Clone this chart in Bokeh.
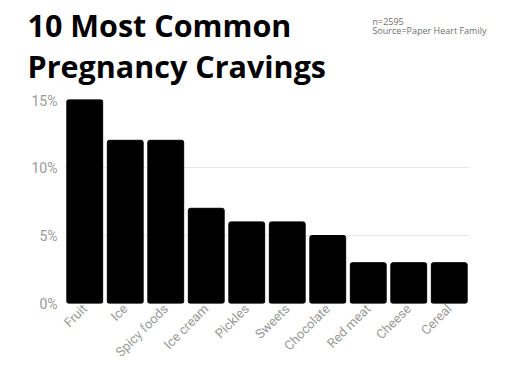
from bokeh.plotting import figure
from bokeh.layouts import column
from bokeh.models import Label, NumeralTickFormatter, FixedTicker, Range1d
from bokeh.embed import file_html
from bokeh.resources import INLINE
import math

categories = ["Fruit", "Ice", "Spicy foods", "Ice cream", "Pickles", "Sweets",
              "Chocolate", "Red meat", "Cheese", "Cereal"]
shares = [15, 12, 12, 7, 6, 6, 5, 3, 3, 3]
y_ticks = [0, 5, 10, 15]
title_lines = ["10 Most Common", "Pregnancy Cravings"]
note_lines = ["n=2595", "Source=Paper Heart Family"]

W = 496
HEAD_H = 92
MAIN_H = 368 - HEAD_H

# ---- header (title + note) ----
head = figure(width=W, height=HEAD_H, x_range=Range1d(0, W), y_range=Range1d(HEAD_H, 0),
              output_backend="svg", toolbar_location=None,
              x_axis_type=None, y_axis_type=None,
              min_border=0, min_border_left=0, min_border_right=0,
              min_border_top=0, min_border_bottom=0)
head.frame_align = False
head.outline_line_color = None
head.grid.grid_line_color = None
head.background_fill_color = "white"
head.border_fill_color = "white"

for t, ypos in zip(title_lines, [24, 65]):
    head.add_layout(Label(x=27, y=ypos, text=t, text_font="Open Sans",
                          text_font_style="bold", text_font_size="30.5px",
                          text_color="black", text_baseline="alphabetic"))
for t, ypos in zip(note_lines, [21, 30]):
    head.add_layout(Label(x=372, y=ypos, text=t, text_font="Open Sans",
                          text_font_size="9px", text_color="#6f6f6f",
                          text_baseline="alphabetic"))

# ---- main bar chart ----
p = figure(x_range=categories, y_range=(0, 15), width=W, height=MAIN_H,
           output_backend="svg", toolbar_location=None,
           min_border_left=64, min_border_right=27, min_border_top=7, min_border_bottom=58)
p.frame_align = False
p.outline_line_color = None
p.background_fill_color = "white"
p.border_fill_color = "white"

p.vbar(x=categories, top=shares, width=0.885, color="black", border_radius=2)

p.xgrid.grid_line_color = None
p.ygrid.grid_line_color = "#e8e8e8"
p.ygrid.grid_line_width = 1
p.yaxis.ticker = FixedTicker(ticks=y_ticks)
p.yaxis.formatter = NumeralTickFormatter(format="0")
p.yaxis.major_label_overrides = {t: f"{t}%" for t in y_ticks}
for ax in (p.xaxis, p.yaxis):
    ax.axis_line_color = None
    ax.major_tick_line_color = None
    ax.minor_tick_line_color = None
    ax.major_tick_out = 0
    ax.major_tick_in = 0
    ax.major_label_text_color = "#9a9a9a"
    ax.major_label_text_font = "Roboto"
p.yaxis.major_label_text_font_size = "14px"
p.yaxis.major_label_standoff = 7
p.xaxis.major_label_text_font_size = "13px"
p.xaxis.major_label_orientation = math.pi / 4
p.xaxis.major_label_standoff = 3

layout = column(head, p, spacing=0)
open("out.html", "w").write(file_html(layout, INLINE))
